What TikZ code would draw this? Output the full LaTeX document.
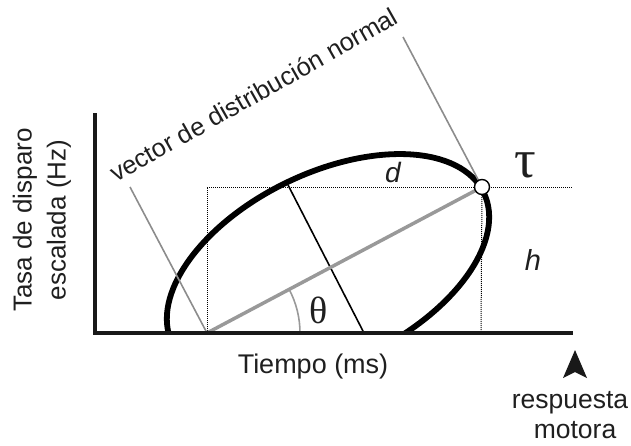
\documentclass[tikz,border=0pt]{standalone}
\usepackage{fontspec}
\setmainfont{Liberation Sans}
\newfontfamily\grk{Liberation Serif}
\begin{document}
\begin{tikzpicture}[x=1pt,y=1pt,
  txt/.style={inner sep=0pt, text=black!88, font=\fontsize{27}{32}\selectfont},
  axisline/.style={line width=3.5pt, black!90},
  vecline/.style={line width=3.5pt, black!40},
  callout/.style={line width=1.6pt, black!45},
  guide/.style={line width=1pt, densely dotted},
  minor/.style={line width=1.6pt},
  curve/.style={line width=5.8pt}]
\useasboundingbox (0,0) rectangle (631,-445);
% coordinates
\coordinate (ytop) at (95,-113);
\coordinate (orig) at (95,-333);
\coordinate (xend) at (573,-333);
\coordinate (O) at (207,-333);
\coordinate (P) at (482,-187);
\coordinate (Ptop) at (207,-187);
\coordinate (Pfoot) at (481,-333);
\coordinate (dotend) at (573,-187);
\coordinate (mtop) at (288,-185);
\coordinate (mbot) at (364,-333);
\coordinate (c1) at (403,-37);
\coordinate (c2) at (130,-187);
% dotted guides
\draw[guide] (O) -- (Ptop) -- (dotend);
\draw[guide] (P) -- (Pfoot);
% ellipse clipped above the axis
\begin{scope}
  \clip (0,-333) rectangle (631,0);
  \draw[curve, rotate around={25.8:(328,-268)}] (328,-268) ellipse [x radius=173pt, y radius=95pt];
\end{scope}
% minor line
\draw[minor] (mtop) -- (mbot);
% angle arc
\draw[line width=1.6pt, black!40] (300,-333) arc[start angle=0, end angle=28, radius=93pt];
% vector
\draw[vecline] (O) -- (P);
% callouts
\draw[callout] (c1) -- (P);
\draw[callout] (c2) -- (O);
% axes
\draw[axisline] (ytop) -- (orig) -- (xend);
% point
\node[circle, draw, fill=white, line width=1.4pt, minimum size=15pt, inner sep=0pt] (tau) at (P) {};
% arrow
\coordinate (arrtip) at (575,-350);
\fill[black!90] (arrtip) -- (587,-378) -- (575,-372) -- (563,-378) -- cycle;
% labels
\node[txt, anchor=base] (tiempo) at (313,-373) {Tiempo (ms)};
\node[txt, font=\fontsize{26.5}{32}\selectfont, anchor=base] (resp) at (570,-408) {respuesta};
\node[txt, font=\fontsize{26.5}{32}\selectfont, anchor=base] (motora) at (575,-438) {motora};
\node[txt, font=\fontsize{26}{34}\selectfont, rotate=90, align=center] (ylab) at (42,-220) {Tasa de disparo\\escalada (Hz)};
\node[txt, font=\fontsize{25.5}{30}\selectfont, rotate=29.5, anchor=base west] (vec) at (116,-183) {vector de distribución normal};
\node[txt, font=\fontsize{28}{32}\itshape] (d) at (393,-172) {d};
\node[txt, font=\fontsize{29}{32}\itshape] (h) at (533,-260) {h};
\node[txt, font=\grk\fontsize{54}{58}\selectfont] (tsym) at (525,-165) {τ};
\node[txt, font=\grk\fontsize{38}{42}\selectfont] (thsym) at (319,-310) {θ};
\end{tikzpicture}
\end{document}
